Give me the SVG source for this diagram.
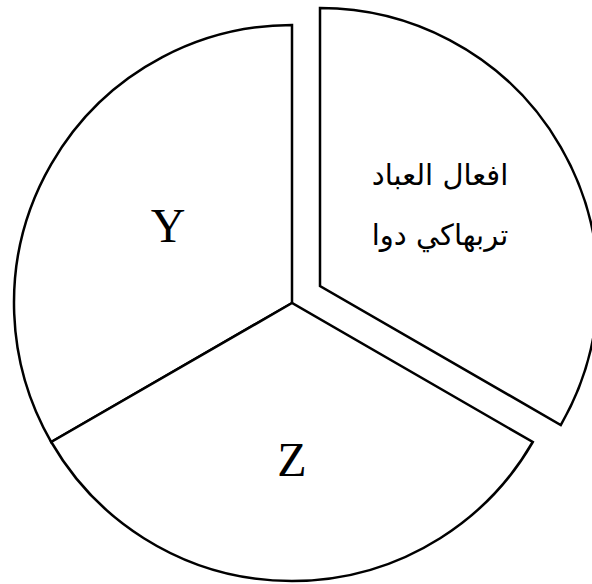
<svg xmlns="http://www.w3.org/2000/svg" width="592" height="584" viewBox="0 0 592 584">
<style>
.sec{fill:#ffffff;stroke:#000000;stroke-width:2.5;stroke-linejoin:miter}
.lbl{font-family:"Liberation Serif","Times New Roman",serif;font-size:48px;fill:#000000;text-anchor:middle}
.ar{font-family:"DejaVu Sans","Noto Sans",serif;font-size:29px;fill:#000000;text-anchor:middle}
</style>
<rect width="592" height="584" fill="#ffffff"/>
<g id="connectors"></g>
<g id="node-y">
<path class="sec" d="M292,303 L292,25 A278,278 0 0 0 51.25,442 Z"/>
<text class="lbl" x="168" y="242">Y</text>
</g>
<g id="node-z">
<path class="sec" d="M292,303 L51.25,442 A278,278 0 0 0 532.75,442 Z"/>
<text class="lbl" x="292" y="476">Z</text>
</g>
<g id="node-x">
<path class="sec" d="M320,286 L320,8 A278,278 0 0 1 560.75,425 Z"/>
<text class="ar" x="440" y="185" direction="rtl">افعال العباد</text>
<text class="ar" x="440" y="245" direction="rtl">تربهاكي دوا</text>
</g>
</svg>
